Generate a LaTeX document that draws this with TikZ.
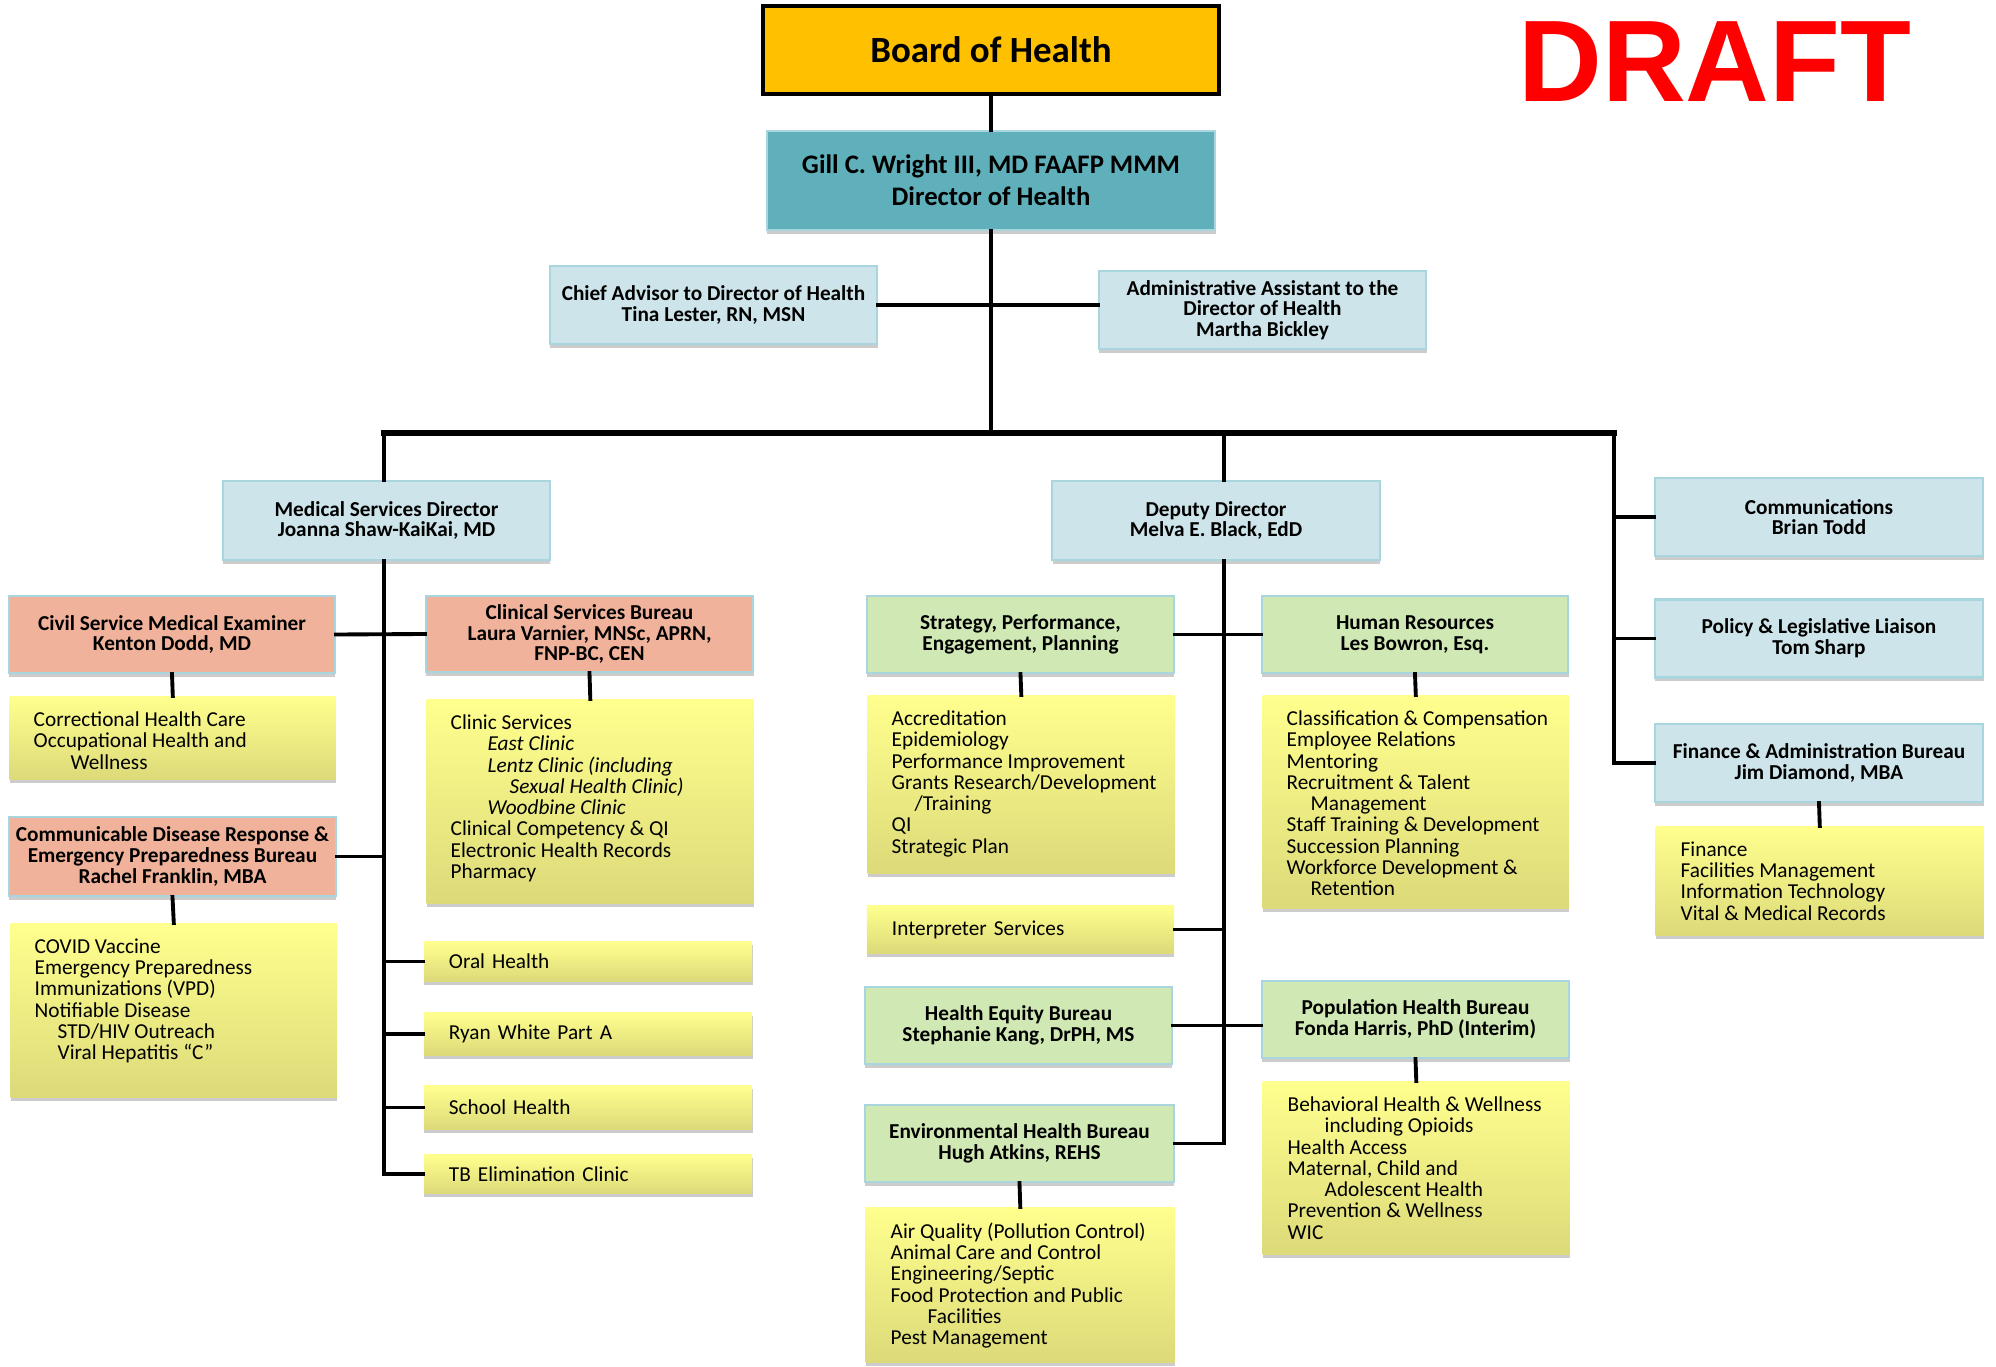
\documentclass[tikz,border=0pt]{standalone}
\usepackage{fontspec}
\setmainfont{Carlito}
\newfontfamily\stampfont{Liberation Sans}
\usepackage{tikz}
\usetikzlibrary{shadows}
\definecolor{boardgold}{HTML}{FFC000}
\definecolor{directorteal}{HTML}{5FB0BB}
\definecolor{officeblue}{HTML}{CDE5EA}
\definecolor{boxedge}{HTML}{A9D6DE}
\definecolor{bureausalmon}{HTML}{F0B29A}
\definecolor{divisiongreen}{HTML}{D0E8B4}
\definecolor{programtop}{HTML}{FFFF8E}
\definecolor{programbottom}{HTML}{DCDA79}
\definecolor{stampred}{RGB}{255,0,0}

\begin{document}
\begin{tikzpicture}[x=0.01cm, y=-0.01cm]
            \tikzset{shadowed/.style={drop shadow={shadow xshift=0.004cm, shadow yshift=-0.035cm, opacity=0.2, fill=black}}};
            \tikzset{office box/.style={shadowed, draw=boxedge, line width=0.6pt, fill=officeblue, minimum width=3.27cm, minimum height=0.78cm, inner sep=0pt, align=center, font={\fontsize{6.05}{5.9}\selectfont\bfseries}}};
            \tikzset{bureau box/.style={office box, fill=bureausalmon}};
            \tikzset{division box/.style={office box, fill=divisiongreen, minimum width=3.07cm, minimum height=0.77cm}};
            \tikzset{program box/.style={shadowed, top color=programtop, bottom color=programbottom, anchor=north west, inner sep=0pt, minimum width=3.27cm}};
            \tikzset{program text/.style={anchor=north west, inner sep=0pt, align=left, font={\fontsize{6.05}{6.05}\selectfont}}};
            \tikzset{program item/.style={shadowed, top color=programtop, bottom color=programbottom, inner xsep=0.25cm, inner ysep=0pt, text width=2.78cm, align=left, font={\fontsize{6.05}{6.05}\selectfont}}};
            \tikzset{link/.style={line width=1.1pt, line cap=rect}};
            \tikzset{bus/.style={line width=1.6pt, line cap=rect}};
            \useasboundingbox (0, 0) rectangle (1996, 1367);
            % Board and director
            \node[draw=black, line width=1pt, fill=boardgold, minimum width=4.56cm, minimum height=0.88cm, font={\fontsize{10.5}{12}\selectfont\bfseries}] (board) at (991, 50) {Board of Health};
            \node[office box, fill=directorteal, minimum width=4.48cm, minimum height=0.99cm, font={\fontsize{7.6}{9.05}\selectfont\bfseries}] (director) at (991, 180.5) {Gill C. Wright III, MD FAAFP MMM\\Director of Health};
            \node[text=stampred, inner sep=0pt, font={\stampfont\fontsize{33}{33}\selectfont\bfseries}] (draft) at (1715, 62) {DRAFT};
            \node[office box] (advisor) at (713.5, 305) {Chief Advisor to Director of Health\\Tina Lester, RN, MSN};
            \node[office box] (assistant) at (1262.5, 310) {Administrative Assistant to the\\Director of Health\\Martha Bickley};
            % Directors
            \node[office box, minimum height=0.79cm] (medical) at (386.5, 520.5) {Medical Services Director\\Joanna Shaw-KaiKai, MD};
            \node[office box, minimum height=0.79cm] (deputy) at (1216, 520.5) {Deputy Director\\Melva E. Black, EdD};
            \node[office box, minimum width=3.28cm] (comms) at (1819, 517) {Communications\\Brian Todd};
            \node[office box, minimum width=3.28cm] (policy) at (1819, 638.5) {Policy \& Legislative Liaison\\Tom Sharp};
            \node[office box, minimum width=3.28cm] (finance) at (1819, 763) {Finance \& Administration Bureau\\Jim Diamond, MBA};
            \node[program box, minimum width=3.28cm, minimum height=1.09cm] (financelist) at (1655, 826) {};
            \node[program text] (financetext) at ([shift={(25,15)}]financelist.north west) {Finance\\Facilities Management\\Information Technology\\Vital \& Medical Records};
            % Medical services
            \node[bureau box, minimum width=3.26cm, minimum height=0.77cm] (examiner) at (172, 634.5) {Civil Service Medical Examiner\\Kenton Dodd, MD};
            \node[program box, minimum width=3.26cm, minimum height=0.83cm] (examinerlist) at (9, 696) {};
            \node[program text] (examinertext) at ([shift={(24,15)}]examinerlist.north west) {Correctional Health Care\\Occupational Health and\\\hspace*{0.37cm}Wellness};
            \node[bureau box, minimum height=0.79cm] (response) at (172.5, 856.5) {Communicable Disease Response \&\\Emergency Preparedness Bureau\\Rachel Franklin, MBA};
            \node[program box, minimum width=3.26cm, minimum height=1.74cm] (responselist) at (10, 923) {};
            \node[program text] (responsetext) at ([shift={(24,15)}]responselist.north west) {COVID Vaccine\\Emergency Preparedness\\Immunizations (VPD)\\Notifiable Disease\\\hspace*{0.23cm}STD/HIV Outreach\\\hspace*{0.23cm}Viral Hepatitis “C”};
            \node[bureau box, minimum height=0.76cm] (clinical) at (589.5, 634) {Clinical Services Bureau\\Laura Varnier, MNSc, APRN,\\FNP-BC, CEN};
            \node[program box, minimum height=2.04cm] (cliniclist) at (426, 699) {};
            \node[program text] (clinictext) at ([shift={(24,15)}]cliniclist.north west) {Clinic Services\\\hspace*{0.37cm}\textit{East Clinic}\\\hspace*{0.37cm}\textit{Lentz Clinic (including}\\\hspace*{0.59cm}\textit{Sexual Health Clinic)}\\\hspace*{0.37cm}\textit{Woodbine Clinic}\\Clinical Competency \& QI\\Electronic Health Records\\Pharmacy};
            \node[program item, minimum height=0.39cm] (oral) at (588, 961.5) {Oral Health};
            \node[program item, minimum height=0.42cm] (ryan) at (588, 1034) {Ryan White Part A};
            \node[program item, minimum height=0.43cm] (school) at (588, 1107.5) {School Health};
            \node[program item, minimum height=0.38cm] (tb) at (588, 1174) {TB Elimination Clinic};
            % Deputy director
            \node[division box] (strategy) at (1020.5, 634.5) {Strategy, Performance,\\Engagement, Planning};
            \node[program box, minimum width=3.07cm, minimum height=1.78cm] (strategylist) at (867, 695) {};
            \node[program text] (strategytext) at ([shift={(24,15)}]strategylist.north west) {Accreditation\\Epidemiology\\Performance Improvement\\Grants Research/Development\\\hspace*{0.23cm}/Training\\QI\\Strategic Plan};
            \node[division box, minimum width=3.06cm] (hr) at (1415, 634.5) {Human Resources\\Les Bowron, Esq.};
            \node[program box, minimum width=3.06cm, minimum height=2.13cm] (hrlist) at (1262, 695) {};
            \node[program text] (hrtext) at ([shift={(24,15)}]hrlist.north west) {Classification \& Compensation\\Employee Relations\\Mentoring\\Recruitment \& Talent\\\hspace*{0.24cm}Management\\Staff Training \& Development\\Succession Planning\\Workforce Development \&\\\hspace*{0.24cm}Retention};
            \node[program item, text width=2.57cm, minimum height=0.47cm] (interpreter) at (1020.5, 929.5) {Interpreter Services};
            \node[division box] (equity) at (1018.5, 1025.5) {Health Equity Bureau\\Stephanie Kang, DrPH, MS};
            \node[division box] (population) at (1415.5, 1019.5) {Population Health Bureau\\Fonda Harris, PhD (Interim)};
            \node[program box, minimum width=3.07cm, minimum height=1.73cm] (populationlist) at (1262, 1081) {};
            \node[program text] (populationtext) at ([shift={(25,15)}]populationlist.north west) {Behavioral Health \& Wellness\\\hspace*{0.37cm}including Opioids\\Health Access\\Maternal, Child and\\\hspace*{0.37cm}Adolescent Health\\Prevention \& Wellness\\WIC};
            \node[division box, minimum width=3.09cm] (environment) at (1019.5, 1143.5) {Environmental Health Bureau\\Hugh Atkins, REHS};
            \node[program box, minimum width=3.09cm, minimum height=1.55cm] (environmentlist) at (865, 1207) {};
            \node[program text] (environmenttext) at ([shift={(25,15)}]environmentlist.north west) {Air Quality (Pollution Control)\\Animal Care and Control\\Engineering/Septic\\Food Protection and Public\\\hspace*{0.37cm}Facilities\\Pest Management};
            % Spine
            \coordinate (trunk) at (991, 433);
            \coordinate (medicaldrop) at (384, 433);
            \coordinate (deputydrop) at (1224, 433);
            \coordinate (staffdrop) at (1614, 433);
            \draw[link] (board.south) -- (director.north);
            \draw[link] (director.south) -- (trunk);
            \draw[link] (advisor.east) -- (advisor.east -| assistant.west);
            \draw[bus] (medicaldrop) -- (staffdrop);
            \draw[link] (medicaldrop) -- (medicaldrop |- medical.north);
            \draw[link] (deputydrop) -- (deputydrop |- deputy.north);
            \draw[link] (staffdrop) -- (staffdrop |- finance.west);
            \draw[link] (comms.west) -- (comms.west -| staffdrop);
            \draw[link] (policy.west) -- (policy.west -| staffdrop);
            \draw[link] (finance.west) -- (finance.west -| staffdrop);
            \draw[link] (finance.south) -- (financelist.north);
            % Medical services links
            \draw[link] (medical.south -| medicaldrop) -- (medicaldrop |- tb.west);
            \draw[link] (examiner.east) -- (clinical.west);
            \draw[link] (response.east) -- (response.east -| medicaldrop);
            \draw[link] (oral.west) -- (oral.west -| medicaldrop);
            \draw[link] (ryan.west) -- (ryan.west -| medicaldrop);
            \draw[link] (school.west) -- (school.west -| medicaldrop);
            \draw[link] (tb.west) -- (tb.west -| medicaldrop);
            \draw[link] (examiner.south) -- (examinerlist.north);
            \draw[link] (response.south) -- (responselist.north);
            \draw[link] (clinical.south) -- (cliniclist.north);
            % Deputy director links
            \draw[link] (deputy.south -| deputydrop) -- (deputydrop |- environment.east);
            \draw[link] (strategy.east) -- (hr.west);
            \draw[link] (interpreter.east) -- (interpreter.east -| deputydrop);
            \draw[link] (equity.east) -- (equity.east -| population.west);
            \draw[link] (environment.east) -- (environment.east -| deputydrop);
            \draw[link] (strategy.south) -- (strategylist.north);
            \draw[link] (hr.south) -- (hrlist.north);
            \draw[link] (population.south) -- (populationlist.north);
            \draw[link] (environment.south) -- (environmentlist.north);
\end{tikzpicture}
\end{document}
